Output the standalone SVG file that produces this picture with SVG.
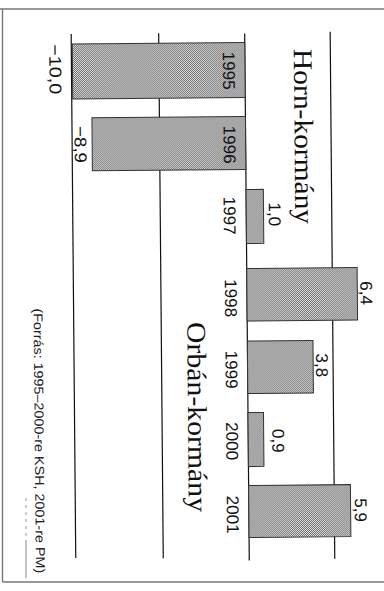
<svg xmlns="http://www.w3.org/2000/svg" width="384" height="591" viewBox="0 0 384 591">
<defs>
<pattern id="dots" width="2" height="2" patternUnits="userSpaceOnUse">
<rect width="2" height="2" fill="#e6e6e6"/>
<rect width="1" height="1" fill="#666"/>
<rect x="1" y="1" width="1" height="1" fill="#666"/>
</pattern>
<style>
.bar{fill:url(#dots);stroke:#333;stroke-width:1}
.grid{stroke:#111;stroke-width:1.2;fill:none}
.frame{stroke:#777;stroke-width:1.4;fill:none}
.head{font-family:"Liberation Serif","DejaVu Serif",serif;font-size:27px;fill:#111}
.val{font-family:"Liberation Sans",Arial,sans-serif;font-size:17px;fill:#111;text-anchor:middle}
.yr{font-family:"Liberation Sans",Arial,sans-serif;font-size:17px;fill:#111;text-anchor:middle}
.cap{font-family:"Liberation Sans",Arial,sans-serif;font-size:13px;fill:#222;text-anchor:middle}
</style>
</defs>
<rect width="384" height="591" fill="#fff"/>
<g id="frame">
<line class="frame" x1="0" y1="9" x2="384" y2="9"/>
<line class="frame" x1="2.5" y1="9" x2="2.5" y2="582"/>
<line class="frame" x1="2.5" y1="582" x2="384" y2="582"/>
</g>
<g id="chart" transform="rotate(-0.5 192 300)">
<g id="connectors">
<line class="grid" x1="73.5" y1="33" x2="73.5" y2="557"/>
<line class="grid" x1="161" y1="33" x2="161" y2="558"/>
<line class="grid" x1="247" y1="34" x2="247" y2="561"/>
<line class="grid" x1="332.5" y1="33" x2="332.5" y2="560"/>
</g>
<g id="bar-1995"><rect class="bar" x="74.5" y="43" width="172.5" height="55"/>
<text class="yr" transform="translate(225 71) rotate(90)">1995</text>
<text class="val" transform="translate(51.5 68) rotate(90)" textLength="50" lengthAdjust="spacingAndGlyphs">−10,0</text></g>
<g id="bar-1996"><rect class="bar" x="93.5" y="117" width="153.5" height="53"/>
<text class="yr" transform="translate(225 145) rotate(90)">1996</text>
<text class="val" transform="translate(76 143.5) rotate(90)" textLength="37" lengthAdjust="spacingAndGlyphs">−8,9</text></g>
<g id="bar-1997"><rect class="bar" x="247" y="190" width="17.3" height="54"/>
<text class="yr" transform="translate(224.5 216) rotate(90)">1997</text>
<text class="val" transform="translate(269.5 215) rotate(90)">1,0</text></g>
<g id="bar-1998"><rect class="bar" x="247" y="269" width="110.4" height="52.5"/>
<text class="yr" transform="translate(225 298.5) rotate(90)">1998</text>
<text class="val" transform="translate(360.5 294.5) rotate(90)">6,4</text></g>
<g id="bar-1999"><rect class="bar" x="247" y="341.5" width="65.6" height="52.5"/>
<text class="yr" transform="translate(225 370) rotate(90)">1999</text>
<text class="val" transform="translate(315.5 366.5) rotate(90)">3,8</text></g>
<g id="bar-2000"><rect class="bar" x="247" y="413" width="15.5" height="54"/>
<text class="yr" transform="translate(225 441.5) rotate(90)">2000</text>
<text class="val" transform="translate(271 441.5) rotate(90)">0,9</text></g>
<g id="bar-2001"><rect class="bar" x="247" y="486" width="101.8" height="52"/>
<text class="yr" transform="translate(225 515) rotate(90)">2001</text>
<text class="val" transform="translate(353 511.5) rotate(90)">5,9</text></g>
<g id="label-horn"><text class="head" transform="translate(296 50) rotate(90)" textLength="175" lengthAdjust="spacingAndGlyphs">Horn-kormány</text></g>
<g id="label-orban"><text class="head" transform="translate(187 322) rotate(90)" textLength="190" lengthAdjust="spacingAndGlyphs">Orbán-kormány</text></g>
<g id="source"><text class="cap" transform="translate(33.5 439.5) rotate(90)" textLength="265" lengthAdjust="spacingAndGlyphs">(Forrás: 1995–2000-re KSH, 2001-re PM)</text></g>
</g>
<g id="mark">
<line x1="26" y1="498" x2="26" y2="538" stroke="#999" stroke-width="1" stroke-dasharray="3 4"/>
<line x1="26" y1="540" x2="26" y2="578" stroke="#888" stroke-width="1"/>
</g>
</svg>
